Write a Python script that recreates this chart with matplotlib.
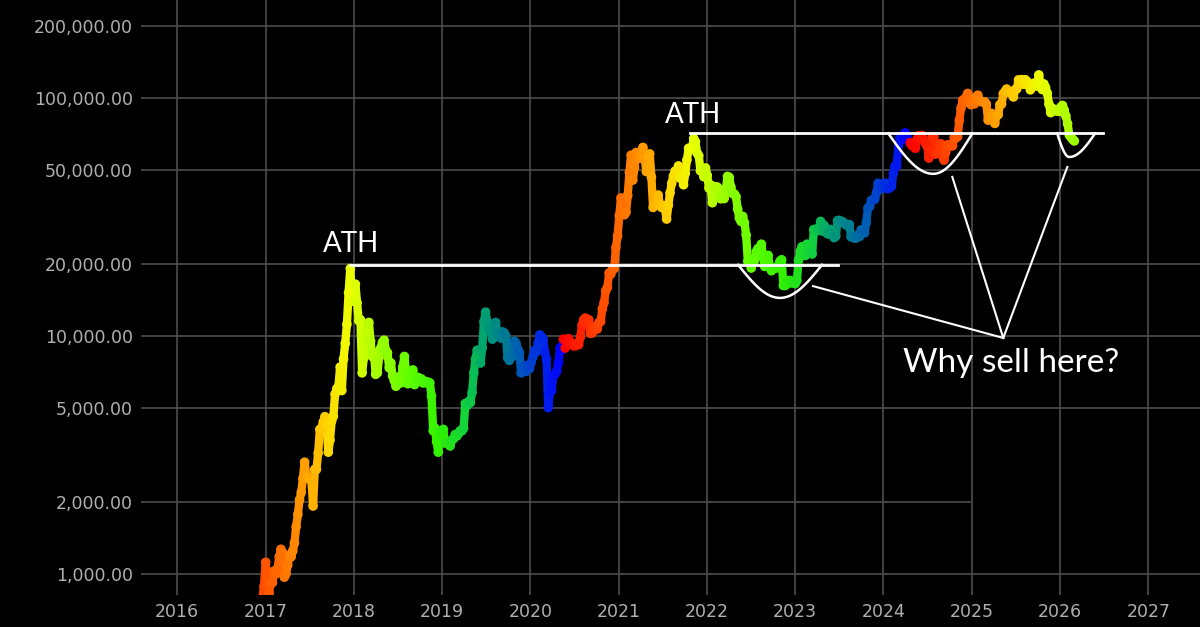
import numpy as np
import pandas as pd
import matplotlib
matplotlib.use('Agg')
import matplotlib.pyplot as plt
import matplotlib.dates as mdates
from matplotlib.colors import LinearSegmentedColormap
from matplotlib.ticker import FixedLocator, FuncFormatter, NullLocator
from matplotlib.collections import LineCollection

# weekly BTC price (USD), sundays starting 2016-12-04
p2016 = [765, 770, 790, 890]
p2017 = [1120, 900, 830, 920, 920,
         1030, 1000, 1050, 1180,
         1270, 1230, 970, 1000,
         1090, 1200, 1180, 1250, 1350,
         1580, 1780, 2050, 2200,
         2520, 2950, 2600, 2550,
         2500, 2500, 1930, 2750, 2750,
         3220, 4050, 4100, 4350,
         4580, 4200, 3250, 3650,
         4400, 4600, 5700, 6000, 6150,
         7400, 5900, 8000, 9300,
         11200, 15200, 19200, 14000, 14000]
p2018 = [16500, 13800, 11600, 11700,
         7000, 8100, 10400, 9600,
         11400, 9500, 8200, 8500,
         6900, 7000, 8100, 8900, 9400,
         9600, 8700, 8500, 7350,
         7700, 6800, 6500, 6150,
         6350, 6750, 6350, 7400, 8200,
         7000, 6300, 6500, 6700,
         7200, 6250, 6500, 6700, 6600,
         6600, 6350, 6450, 6350,
         6400, 6350, 5600, 4000,
         4100, 3600, 3250, 3950, 3850]
p2019 = [4050, 3550, 3550, 3550,
         3450, 3650, 3700, 3850,
         3800, 3900, 4000, 4000, 4100,
         5200, 5100, 5300, 5250,
         5800, 7000, 8000, 8700,
         8700, 7700, 8900, 11500, 12600,
         11500, 10800, 10500, 9700,
         11000, 11400, 10300, 10100,
         9800, 10400, 10300, 10000, 8100,
         7900, 8300, 8200, 9500,
         9300, 8800, 8500, 7000,
         7400, 7500, 7100, 7500, 7300]
p2020 = [7750, 8200, 8700, 8600,
         9300, 10100, 9900, 9700,
         8550, 8000, 5000, 5800, 5900,
         6800, 6900, 7100, 7700,
         8900, 8750, 9700, 8900, 9450,
         9750, 9350, 9300, 9100,
         9100, 9300, 9200, 9900,
         11100, 11700, 11900, 11650, 11700,
         10250, 10300, 10900, 10750,
         10700, 11400, 11500, 13000,
         13800, 15500, 16000, 18400, 18200,
         19100, 19200, 23500, 26300]
p2021 = [32000, 38000, 35800, 32300, 33100,
         39000, 48700, 57500, 45200,
         51000, 59000, 57500, 55800,
         58000, 62000, 56200, 49100,
         56600, 58200, 46500, 34700, 35700,
         35800, 39100, 35600, 34700,
         35300, 34200, 31000, 35400,
         39900, 43800, 47000, 49300, 48800,
         51800, 46000, 47300, 43200,
         48200, 54900, 61500, 60900, 61300,
         67500, 65500, 58700, 57200,
         49400, 50100, 46700, 50800]
p2022 = [47300, 41800, 43100, 36300, 37900,
         42400, 42200, 38400, 37700,
         38400, 37800, 41300, 46800,
         46400, 42200, 39700, 39500,
         38500, 34100, 31300, 30300, 31800,
         29900, 26600, 20600, 21000,
         19300, 20900, 20800, 22600, 23300,
         23200, 24300, 21500, 19600,
         19800, 21800, 19400, 18800,
         19300, 19400, 19300, 19600, 20600,
         20900, 16300, 16300, 16500,
         17100, 17100, 16700, 16800]
p2023 = [16600, 17100, 20900, 22700, 23700,
         22900, 21800, 24300, 23500,
         22400, 22100, 28000, 27500,
         28200, 28300, 30300, 27600, 29200,
         28400, 26900, 26800, 28000,
         27100, 25900, 26300, 30500,
         30600, 30300, 30200, 29800, 29300,
         29100, 29400, 26100, 26000,
         25800, 25800, 26500, 26200,
         27900, 27900, 27100, 29900, 34500,
         35000, 37100, 37400, 37500,
         39900, 43800, 41400, 43000, 42300]
p2024 = [43900, 41700, 41600, 42000,
         42600, 48300, 51700, 51700,
         63100, 68900, 68400, 67200, 71300,
         69400, 65700, 64900, 63100,
         64000, 61500, 66900, 69400,
         67800, 69600, 66600, 64300, 62700,
         55900, 60800, 68200, 68300,
         58100, 58700, 59500, 64200,
         57300, 54800, 59200, 63600, 63300,
         63000, 62900, 68400, 67900,
         68800, 80400, 90600, 97900,
         97200, 101000, 104500, 95100, 93700]
p2025 = [98300, 94500, 101100, 102700,
         97700, 96500, 96200, 96300,
         94200, 80700, 82600, 86100, 82300,
         78200, 84500, 85100, 93800,
         94300, 104200, 106300, 109000,
         105700, 105700, 105500, 101000, 108400,
         109200, 119100, 117300, 119400,
         114200, 119300, 117400, 113500, 108200,
         111100, 115300, 115300, 112200,
         125000, 115200, 108600, 114500,
         110600, 104700, 94200, 86800, 90400,
         89300, 88200, 88500, 87800]
p2026 = [91500, 93000, 89000, 84000,
         78000, 70000, 68500, 67000,
         66000]

halvings = ['2016-07-09', '2020-05-11', '2024-04-20', '2028-04-15']
y_ticks = [1000, 2000, 5000, 10000, 20000, 50000, 100000, 200000]

price = np.array(p2016 + p2017 + p2018 + p2019 + p2020 + p2021 + p2022
                 + p2023 + p2024 + p2025 + p2026, dtype=float)
dates = pd.date_range('2016-12-04', periods=len(price), freq='7D')
x = mdates.date2num(dates)

# colour = position inside the halving cycle
hv = mdates.date2num(pd.to_datetime(halvings))
k = np.searchsorted(hv, x, side='right') - 1
phase = (x - hv[k]) / (hv[k + 1] - hv[k])

cmap = LinearSegmentedColormap.from_list('cycle', [
    (0.00, '#ff0000'), (0.12, '#ff5000'), (0.22, '#ff9000'),
    (0.30, '#ffd000'), (0.37, '#eeff00'), (0.46, '#a0ff00'),
    (0.55, '#60ff00'), (0.64, '#30f000'), (0.72, '#10d040'),
    (0.77, '#00a070'), (0.85, '#0070a0'), (0.93, '#0030e0'),
    (1.00, '#0000ff')])

fig = plt.figure(figsize=(12, 6.27), dpi=100, facecolor='black')
ax = fig.add_axes([141 / 1200, 32 / 627, 1 - 141 / 1200, 1 - 32 / 627])
ax.set_facecolor('black')
for s in ax.spines.values():
    s.set_visible(False)

ax.set_yscale('log')
ax.set_ylim(816, 258000)
ax.set_xlim(mdates.date2num(pd.Timestamp('2015-08-04')),
            mdates.date2num(pd.Timestamp('2027-08-03')))

ax.yaxis.set_major_locator(FixedLocator(y_ticks))
ax.yaxis.set_minor_locator(NullLocator())
ax.yaxis.set_major_formatter(FuncFormatter(lambda v, p: '{:,.2f}'.format(v)))
ax.xaxis.set_major_locator(mdates.YearLocator())
ax.xaxis.set_major_formatter(mdates.DateFormatter('%Y'))
ax.tick_params(length=0, labelcolor='#b0b0b0', labelsize=12.5)
ax.tick_params(axis='y', pad=6)
ax.tick_params(axis='x', pad=6)

grid_c = '#4d4d4d'
ax.grid(axis='x', color=grid_c, lw=1.2, zorder=0)
for v in y_ticks:
    ax.axhline(v, color=grid_c, lw=1.2, zorder=0.5,
               xmax=(970 - 141) / (1200 - 141) if v == 2000 else 1)
ax.set_axisbelow(True)

pts = np.column_stack([x, price])
segs = np.stack([pts[:-1], pts[1:]], axis=1)
lc = LineCollection(segs, colors=cmap(phase[:-1]), linewidths=6, zorder=2,
                    capstyle='round')
ax.add_collection(lc)
ax.scatter(x, price, c=phase, cmap=cmap, vmin=0, vmax=1, s=48,
           linewidths=0, zorder=3)


def d(s):
    return mdates.date2num(pd.Timestamp(s))


def cup(x0, xb, x1, top, bottom, n=60):
    a, b, c = d(x0), d(xb), d(x1)
    xl = np.linspace(a, b, n)
    xr = np.linspace(b, c, n)
    sh = np.r_[np.sin(np.pi / 2 * (xl - a) / (b - a)),
               np.sin(np.pi / 2 * (c - xr) / (c - b))]
    ys = 10 ** (np.log10(top) - sh * (np.log10(top) - np.log10(bottom)))
    ax.plot(np.r_[xl, xr], ys, color='white', lw=1.8, zorder=5)


# ATH levels
ax.plot([d('2017-12-16'), d('2023-06-28')], [19900, 19900], color='white', lw=2, zorder=5)
ax.plot([d('2021-10-23'), d('2026-06-28')], [71000, 71000], color='white', lw=2, zorder=5)

cup('2022-05-10', '2022-10-30', '2023-04-22', 19900, 14450)
cup('2024-01-21', '2024-07-25', '2025-01-03', 71000, 48000)
cup('2025-12-20', '2026-02-08', '2026-05-26', 71000, 56500)

apex = (d('2025-05-11'), 9810)
for sx, sy in [('2023-03-16', 16200), ('2024-10-12', 46600), ('2026-01-31', 51300)]:
    ax.plot([d(sx), apex[0]], [sy, apex[1]], color='white', lw=1.5, zorder=5)

ax.text(d('2017-12-20'), 22540, 'ATH', color='white', fontsize=20,
        family='Lato', ha='center', va='baseline', zorder=6)
ax.text(d('2021-11-06'), 78500, 'ATH', color='white', fontsize=20,
        family='Lato', ha='center', va='baseline', zorder=6)
ax.text(d('2025-06-13'), 7065, 'Why sell here?', color='white', fontsize=24,
        family='Lato', ha='center', va='baseline', zorder=6)

fig.savefig('out.png', dpi=100, facecolor='black')
